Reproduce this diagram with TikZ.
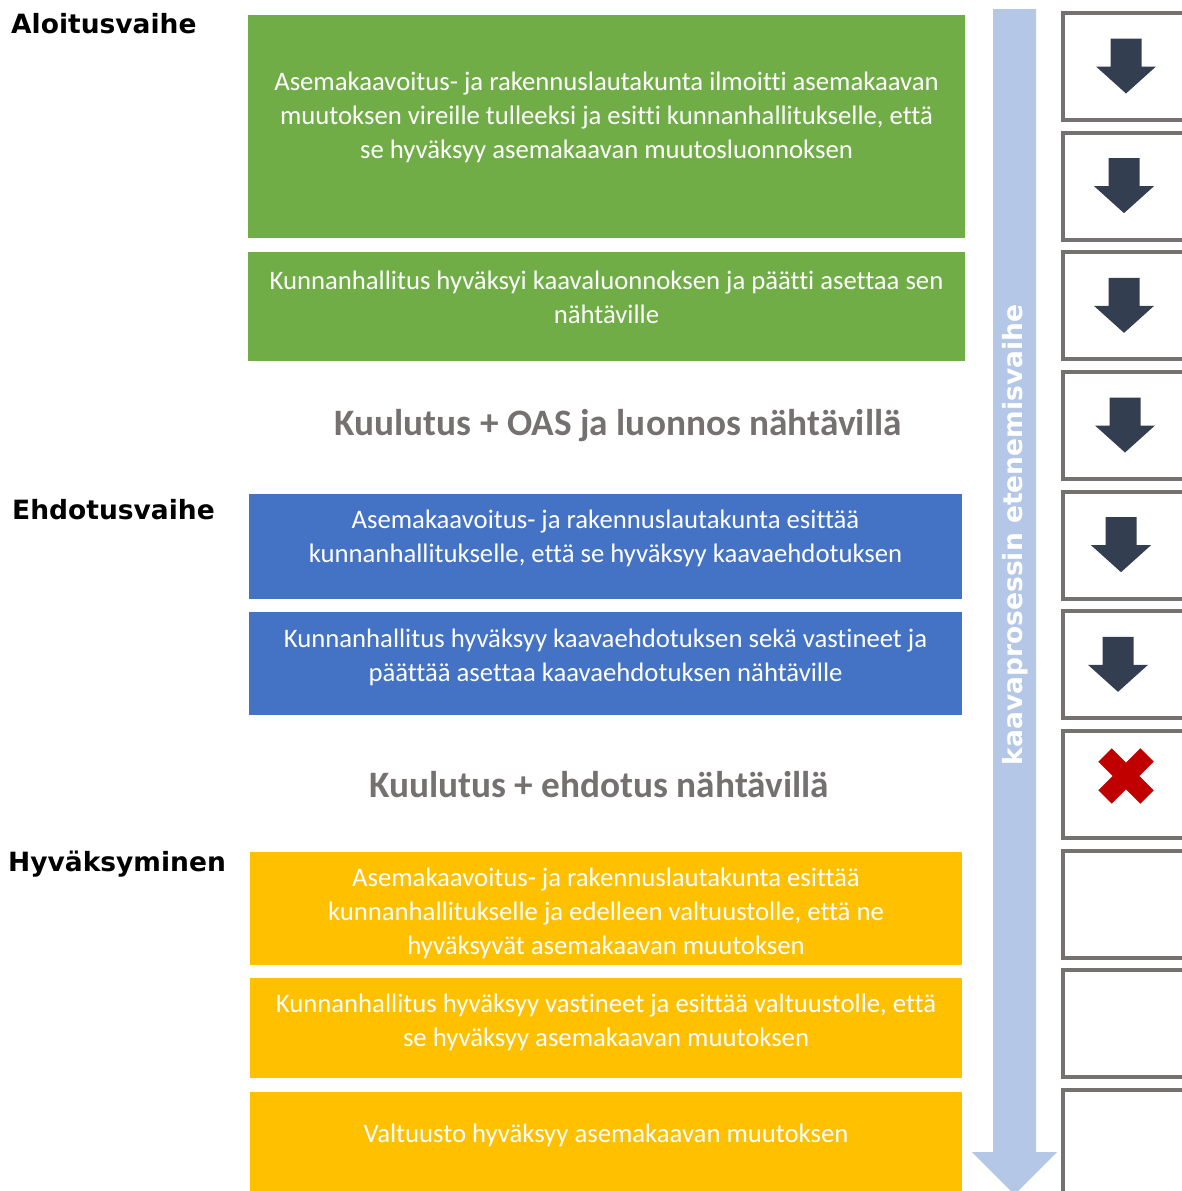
\documentclass[tikz,border=0pt]{standalone}
\usepackage{fontspec}
\setmainfont[Ligatures=NoCommon]{Carlito}
\newfontfamily\verdanalike{DejaVu Sans}
\usepackage{tikz}
\usetikzlibrary{positioning}

\definecolor{planGreen}{HTML}{70AD47}
\definecolor{planBlue}{HTML}{4472C4}
\definecolor{planYellow}{HTML}{FFC000}
\definecolor{flowBlue}{HTML}{B4C7E7}
\definecolor{arrowDark}{HTML}{333F50}
\definecolor{frameGray}{HTML}{767171}
\definecolor{crossRed}{HTML}{C00000}

\tikzset{
  phasebox/.style={inner sep=0pt, outer sep=0pt, minimum width=717pt},
  boxtext/.style={text=white, align=center, inner sep=0pt,
    font=\fontsize{26.7}{34}\selectfont},
  phasename/.style={anchor=west, inner sep=0pt, font=\verdanalike\bfseries\fontsize{26.5}{30}\selectfont},
  notice/.style={text=frameGray, inner sep=0pt, font=\bfseries\fontsize{37.3}{40}\selectfont},
  stepbox/.style={draw=frameGray, line width=4pt, minimum width=187pt, minimum height=107pt,
    inner sep=0pt, outer sep=0pt}
}

\newcommand{\stepdown}[2]{\fill[arrowDark, shift={(#1)}, xshift=#2pt] (-15.5,-28) -- (15.5,-28) -- (15.5,0) -- (30,0)
  -- (0,27) -- (-30,0) -- (-15.5,0) -- cycle;}

\begin{document}
\begin{tikzpicture}[x=1pt, y=-1pt]
 \useasboundingbox (0,0) rectangle (1182,1191);
 \clip (0,0) rectangle (1182,1191);

  \draw (11,24) node[phasename] (aloitus) {Aloitusvaihe};
  \draw (12,510) node[phasename] (ehdotus) {Ehdotusvaihe};
  \draw (8,864) node[phasename] (hyvaksyminen) {Hyväksyminen};

  \draw (606.5,126.5) node[phasebox, fill=planGreen, minimum height=223pt] (g1) {};
  \draw (606.5,117.5) node[boxtext] (g1t) {Asemakaavoitus- ja rakennuslautakunta ilmoitti asemakaavan\\ muutoksen vireille tulleeksi ja esitti kunnanhallitukselle, että\\ se hyväksyy asemakaavan muutosluonnoksen};
  \draw (606.5,306.5) node[phasebox, fill=planGreen, minimum height=109pt] (g2) {};
  \draw (606.5,297.5) node[boxtext] (g2t) {Kunnanhallitus hyväksyi kaavaluonnoksen ja päätti asettaa sen\\ nähtäville};

  \draw (618,426) node[notice] (oas) {Kuulutus + OAS ja luonnos nähtävillä};

  \draw (605.5,546.5) node[phasebox, fill=planBlue, minimum width=713pt, minimum height=105pt] (b1) {};
  \draw (605.5,538.5) node[boxtext] (b1t) {Asemakaavoitus- ja rakennuslautakunta esittää\\ kunnanhallitukselle, että se hyväksyy kaavaehdotuksen};
  \draw (605.5,663.5) node[phasebox, fill=planBlue, minimum width=713pt, minimum height=103pt] (b2) {};
  \draw (605.5,657.5) node[boxtext] (b2t) {Kunnanhallitus hyväksyy kaavaehdotuksen sekä vastineet ja\\ päättää asettaa kaavaehdotuksen nähtäville};

  \draw (599,785) node[notice] (ehd) {Kuulutus + ehdotus nähtävillä};

  \begin{scope}
    \draw (606,908.5) node[phasebox, fill=planYellow, minimum width=712pt, minimum height=113pt] (y1) {};
    \clip (250,852) rectangle (962,965);
    \draw (606,913.5) node[boxtext] (y1t) {Asemakaavoitus- ja rakennuslautakunta esittää\\ kunnanhallitukselle ja edelleen valtuustolle, että ne\\ hyväksyvät asemakaavan muutoksen};
  \end{scope}
  \draw (606,1028) node[phasebox, fill=planYellow, minimum width=712pt, minimum height=100pt] (y2) {};
  \draw (606,1022.5) node[boxtext] (y2t) {Kunnanhallitus hyväksyy vastineet ja esittää valtuustolle, että\\ se hyväksyy asemakaavan muutoksen};
  \draw (606,1141.5) node[phasebox, fill=planYellow, minimum width=712pt, minimum height=99pt] (y3) {};
  \draw (606,1135.5) node[boxtext] (y3t) {Valtuusto hyväksyy asemakaavan muutoksen};

  \fill[flowBlue] (993,9) -- (1036,9) -- (1036,1152) -- (1057,1152) -- (1014.5,1194.5)
    -- (972,1152) -- (993,1152) -- cycle;
  \draw (1015,535) node[rotate=90, text=white, inner sep=0pt,
    font=\verdanalike\bfseries\fontsize{26.5}{30}\selectfont] (flow) {kaavaprosessin etenemisvaihe};

  \foreach \i in {0,...,9}
    \draw (1156.5,66.5+\i*119.67) node[stepbox] (s\i) {};

  \foreach \i/\dx in {0/-30.5,1/-32.5,2/-32.5,3/-31.5,4/-35.5,5/-38.5}
    {\stepdown{s\i.center}{\dx}}

  \draw[crossRed, line width=19pt] (1105,755) -- (1147,797) (1105,797) -- (1147,755);

\end{tikzpicture}
\end{document}
